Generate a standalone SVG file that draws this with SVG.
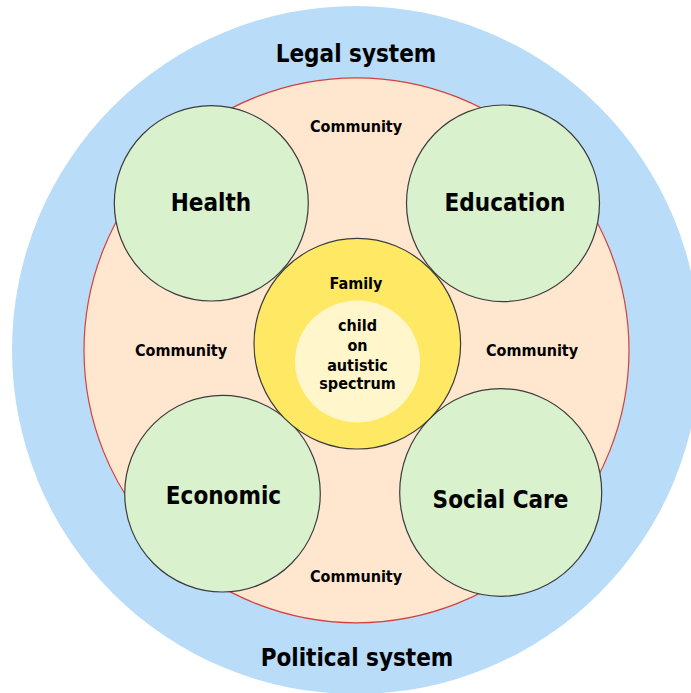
<svg xmlns="http://www.w3.org/2000/svg" width="691" height="693" viewBox="0 0 691 693">
  <style>
    .lbl { font-family: "DejaVu Sans Condensed", "DejaVu Sans", sans-serif; font-stretch: condensed; font-weight: bold; fill: #000; text-anchor: middle; }
    .big { font-size: 24px; }
    .small { font-size: 16px; }
    .sector { fill: #d9f1cd; stroke: #3c3c3c; stroke-width: 1.2; }
  </style>
  <rect width="691" height="693" fill="#ffffff"/>

  <!-- outer ring: legal / political system -->
  <g id="systems">
    <circle cx="356" cy="350" r="344" fill="#b9dcf9"/>
    <text class="lbl big" x="356" y="62">Legal system</text>
    <text class="lbl big" x="357" y="666">Political system</text>
  </g>

  <!-- community ring -->
  <g id="community">
    <circle cx="356.5" cy="350.3" r="272.5" fill="#ffe6cf" stroke="#d0423f" stroke-width="1.2"/>
    <text class="lbl small" x="356" y="132">Community</text>
    <text class="lbl small" x="181" y="356">Community</text>
    <text class="lbl small" x="532" y="356">Community</text>
    <text class="lbl small" x="356" y="582">Community</text>
  </g>

  <!-- service sectors -->
  <g id="health">
    <ellipse class="sector" cx="211.3" cy="203.3" rx="97" ry="97.7"/>
    <text class="lbl big" x="211" y="211">Health</text>
  </g>
  <g id="education">
    <ellipse class="sector" cx="503" cy="203.3" rx="96.5" ry="98.3"/>
    <text class="lbl big" x="505" y="211">Education</text>
  </g>
  <g id="economic">
    <ellipse class="sector" cx="222.5" cy="493.7" rx="97.8" ry="98.3"/>
    <text class="lbl big" x="223.5" y="504">Economic</text>
  </g>
  <g id="social-care">
    <ellipse class="sector" cx="500.7" cy="492.5" rx="101" ry="103.8"/>
    <text class="lbl big" x="500.5" y="508">Social Care</text>
  </g>

  <!-- family and child at the centre -->
  <g id="family">
    <ellipse cx="357.3" cy="343.7" rx="103.3" ry="105.3" fill="#ffe964" stroke="#3c3c3c" stroke-width="1.2"/>
    <text class="lbl small" x="356" y="289">Family</text>
  </g>
  <g id="child">
    <ellipse cx="357.5" cy="361.5" rx="62.5" ry="61" fill="#fff6cc"/>
    <text class="lbl small" x="357.5" y="331">child</text>
    <text class="lbl small" x="357.5" y="351">on</text>
    <text class="lbl small" x="357.5" y="370.5">autistic</text>
    <text class="lbl small" x="357.5" y="389">spectrum</text>
  </g>

  <g id="connectors"/>
</svg>
